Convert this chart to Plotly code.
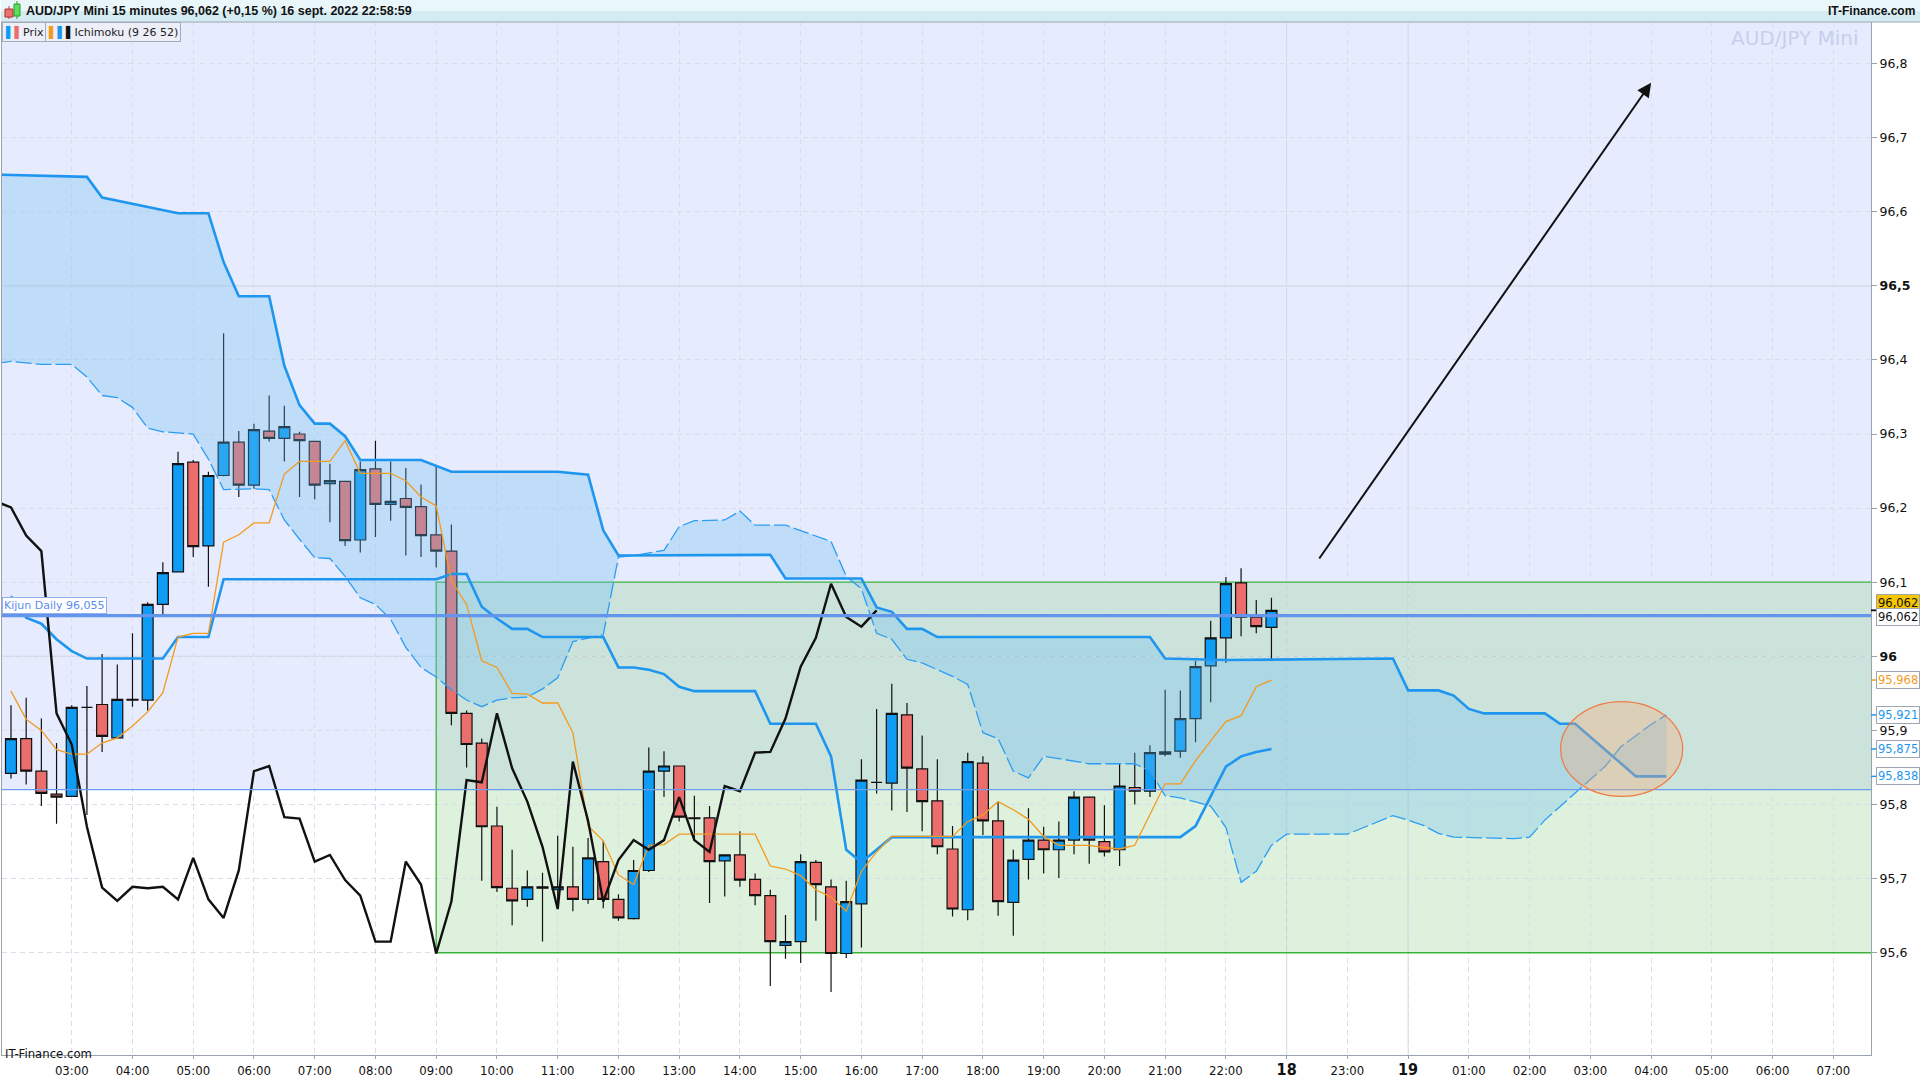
import pandas as pd
import plotly.graph_objects as go

# AUD/JPY Mini, 15 minute candles of 16 sept. 2022, first bar 02:00, last bar 22:45
opens = [95.842, 95.889, 95.845, 95.814, 95.811, 95.931, 95.935, 95.890, 95.941, 95.941,
         96.070, 96.114, 96.262, 96.149, 96.244, 96.289, 96.231, 96.304, 96.294, 96.300,
         96.290, 96.233, 96.236, 96.157, 96.253, 96.205, 96.213, 96.202, 96.164, 96.142,
         95.923, 95.883, 95.771, 95.687, 95.672, 95.689, 95.685, 95.689, 95.672, 95.723,
         95.672, 95.646, 95.711, 95.845, 95.852, 95.782, 95.782, 95.724, 95.732, 95.699,
         95.677, 95.610, 95.615, 95.722, 95.689, 95.599, 95.666, 95.830, 95.829, 95.921,
         95.848, 95.805, 95.740, 95.658, 95.856, 95.778, 95.668, 95.726, 95.752, 95.739,
         95.752, 95.810, 95.750, 95.739, 95.823, 95.818, 95.868, 95.872, 95.916, 95.987,
         96.025, 96.099, 96.053, 96.039]
highs = [95.934, 95.944, 95.916, 95.883, 95.934, 95.960, 96.003, 95.989, 96.031, 96.073,
         96.127, 96.276, 96.265, 96.249, 96.436, 96.304, 96.314, 96.352, 96.338, 96.303,
         96.290, 96.260, 96.237, 96.263, 96.291, 96.263, 96.254, 96.232, 96.257, 96.178,
         95.927, 95.889, 95.797, 95.739, 95.711, 95.708, 95.758, 95.743, 95.755, 95.751,
         95.679, 95.725, 95.877, 95.872, 95.852, 95.812, 95.798, 95.732, 95.764, 95.707,
         95.685, 95.651, 95.733, 95.725, 95.699, 95.697, 95.861, 95.929, 95.963, 95.937,
         95.893, 95.861, 95.771, 95.870, 95.865, 95.804, 95.739, 95.795, 95.770, 95.777,
         95.818, 95.810, 95.799, 95.856, 95.870, 95.880, 95.955, 95.954, 95.994, 96.048,
         96.107, 96.119, 96.076, 96.079]
lows = [95.835, 95.827, 95.798, 95.774, 95.810, 95.786, 95.871, 95.889, 95.932, 95.927,
        96.055, 96.114, 96.134, 96.094, 96.243, 96.215, 96.226, 96.290, 96.263, 96.215,
        96.212, 96.181, 96.149, 96.140, 96.161, 96.183, 96.136, 96.134, 96.120, 95.907,
        95.850, 95.697, 95.682, 95.637, 95.662, 95.615, 95.668, 95.656, 95.666, 95.660,
        95.643, 95.645, 95.709, 95.810, 95.777, 95.751, 95.667, 95.676, 95.689, 95.664,
        95.555, 95.592, 95.586, 95.643, 95.547, 95.593, 95.607, 95.815, 95.792, 95.790,
        95.764, 95.733, 95.649, 95.644, 95.759, 95.650, 95.623, 95.699, 95.707, 95.701,
        95.733, 95.720, 95.730, 95.717, 95.800, 95.810, 95.865, 95.863, 95.884, 95.938,
        95.991, 96.027, 96.031, 95.995]
closes = [95.889, 95.845, 95.815, 95.810, 95.931, 95.931, 95.892, 95.942, 95.942, 96.070,
          96.113, 96.260, 96.148, 96.244, 96.289, 96.231, 96.306, 96.294, 96.310, 96.291,
          96.231, 96.237, 96.156, 96.252, 96.205, 96.209, 96.201, 96.163, 96.142, 95.923,
          95.881, 95.770, 95.688, 95.670, 95.689, 95.687, 95.689, 95.672, 95.728, 95.672,
          95.647, 95.711, 95.845, 95.852, 95.783, 95.781, 95.723, 95.732, 95.698, 95.677,
          95.615, 95.615, 95.723, 95.692, 95.599, 95.669, 95.833, 95.830, 95.923, 95.849,
          95.804, 95.743, 95.659, 95.858, 95.778, 95.669, 95.725, 95.752, 95.739, 95.752,
          95.810, 95.752, 95.736, 95.825, 95.818, 95.870, 95.871, 95.916, 95.986, 96.025,
          96.098, 96.053, 96.040, 96.062]

# Ichimoku (9 26 52)
tenkan = [95.953, 95.915, 95.900, 95.874, 95.868, 95.868, 95.883, 95.890, 95.906, 95.925,
          95.951, 96.026, 96.031, 96.031, 96.154, 96.164, 96.180, 96.180, 96.246, 96.263,
          96.263, 96.263, 96.291, 96.247, 96.247, 96.247, 96.237, 96.215, 96.203, 96.102,
          96.070, 95.994, 95.985, 95.950, 95.949, 95.937, 95.937, 95.897, 95.771, 95.751,
          95.705, 95.692, 95.745, 95.746, 95.760, 95.760, 95.760, 95.760, 95.760, 95.760,
          95.717, 95.713, 95.704, 95.685, 95.675, 95.656, 95.710, 95.736, 95.757, 95.757,
          95.757, 95.757, 95.757, 95.777, 95.786, 95.804, 95.793, 95.780, 95.757, 95.745,
          95.745, 95.745, 95.742, 95.740, 95.745, 95.786, 95.828, 95.828, 95.859, 95.886,
          95.912, 95.920, 95.959, 95.968]
kijun = [96.081, 96.052, 96.044, 96.023, 96.007, 95.997, 95.997, 95.997, 95.997, 95.997,
         95.997, 96.026, 96.026, 96.026, 96.104, 96.104, 96.104, 96.104, 96.104, 96.104,
         96.104, 96.104, 96.104, 96.104, 96.104, 96.104, 96.104, 96.104, 96.104, 96.111,
         96.111, 96.067, 96.051, 96.037, 96.037, 96.026, 96.026, 96.026, 96.026, 96.026,
         95.985, 95.985, 95.982, 95.976, 95.959, 95.953, 95.953, 95.953, 95.953, 95.953,
         95.909, 95.909, 95.909, 95.909, 95.865, 95.739, 95.722, 95.739, 95.756, 95.756,
         95.756, 95.756, 95.756, 95.756, 95.756, 95.756, 95.756, 95.756, 95.756, 95.756,
         95.756, 95.756, 95.756, 95.756, 95.756, 95.756, 95.756, 95.756, 95.771, 95.810,
         95.851, 95.865, 95.871, 95.875]

# senkou spans, projected 26 bars ahead: break points (hour of the bar, price)
senkou_a_hours = [1.75, 2.0, 2.5, 3.0, 3.25, 3.5, 3.75, 4.0, 4.25, 4.5, 5.0, 5.25, 5.5, 6.0,
                  6.25, 6.5, 6.75, 7.0, 7.25, 7.5, 7.75, 8.0, 8.25, 8.5, 8.75, 9.0, 9.25,
                  9.5, 9.75, 10.0, 10.25, 10.5, 10.75, 11.0, 11.25, 11.75, 12.0, 12.25,
                  12.75, 13.0, 13.25, 13.75, 14.0, 14.25, 14.75, 15.0, 15.5, 15.75, 16.0,
                  16.25, 16.5, 16.75, 17.0, 17.25, 17.5, 17.75, 18.0, 18.25, 18.5, 18.75,
                  19.0, 19.25, 19.75, 20.5, 20.75, 21.0, 21.25, 21.75, 22.0, 22.25, 22.5,
                  22.75, 23.0, 24.0, 24.5, 24.75, 25.0, 25.25, 25.5, 25.75, 26.75, 27.0,
                  27.25, 27.5, 27.75, 28.25, 28.5, 29.0, 29.25]
senkou_a = [96.395, 96.398, 96.394, 96.394, 96.377, 96.352, 96.349, 96.336, 96.308, 96.303,
            96.300, 96.266, 96.225, 96.226, 96.225, 96.184, 96.158, 96.133, 96.132, 96.108,
            96.079, 96.070, 96.050, 96.012, 95.985, 95.972, 95.955, 95.941, 95.932, 95.941,
            95.944, 95.945, 95.956, 95.971, 96.020, 96.029, 96.134, 96.136, 96.143, 96.175,
            96.183, 96.184, 96.196, 96.177, 96.177, 96.170, 96.155, 96.108, 96.091, 96.031,
            96.023, 95.996, 95.991, 95.982, 95.973, 95.962, 95.897, 95.889, 95.845, 95.836,
            95.865, 95.862, 95.855, 95.855, 95.845, 95.812, 95.809, 95.798, 95.769, 95.695,
            95.710, 95.745, 95.760, 95.760, 95.776, 95.785, 95.779, 95.772, 95.761, 95.756,
            95.754, 95.756, 95.779, 95.797, 95.815, 95.852, 95.878, 95.908, 95.921]
senkou_b_hours = [1.75, 3.25, 3.5, 4.75, 5.25, 5.5, 5.75, 6.25, 6.5, 6.75, 7.0, 7.25, 7.5,
                  7.75, 8.75, 9.25, 11.0, 11.5, 11.75, 12.0, 14.5, 14.75, 16.0, 16.25, 16.5,
                  16.75, 17.0, 17.25, 20.75, 21.0, 22.0, 24.5, 24.75, 25.0, 25.5, 25.75,
                  26.0, 26.25, 27.25, 27.5, 27.75, 28.75, 29.25]
senkou_b = [96.650, 96.647, 96.619, 96.598, 96.598, 96.532, 96.486, 96.486, 96.392, 96.339,
            96.314, 96.314, 96.297, 96.265, 96.265, 96.249, 96.249, 96.245, 96.170, 96.136,
            96.137, 96.105, 96.105, 96.066, 96.060, 96.037, 96.037, 96.026, 96.026, 95.997,
            95.995, 95.996, 95.997, 95.954, 95.954, 95.947, 95.929, 95.923, 95.923, 95.909,
            95.909, 95.838, 95.838]

# x axis: one tick per hour, the chart keeps running into the projected bars
time_ticks = list(range(3, 33))
time_labels = ["03:00", "04:00", "05:00", "06:00", "07:00", "08:00", "09:00", "10:00",
               "11:00", "12:00", "13:00", "14:00", "15:00", "16:00", "17:00", "18:00",
               "19:00", "20:00", "21:00", "22:00", "18", "23:00", "19", "01:00", "02:00",
               "03:00", "04:00", "05:00", "06:00", "07:00"]
day_ticks = [23, 25]
price_ticks = [95.6, 95.7, 95.8, 95.9, 96.0, 96.1, 96.2, 96.3, 96.4, 96.5, 96.6, 96.7, 96.8]
round_prices = [96.0, 96.5]

last_price = 96.062
kijun_daily = 96.055
support_level = 95.82
range_box = dict(start=9.0, low=95.6, high=96.1)
target_zone = dict(x0=27.51, x1=29.52, y0=95.811, y1=95.939)
arrow_tail = (23.52, 96.130)
arrow_head = (29.0, 96.774)

X_RANGE = [1.852, 32.62]
Y_RANGE = [95.462, 96.856]
W, H = 1920, 1080
M_L, M_R, M_T, M_B = 1, 49, 22, 21
PLOT_W = W - M_L - M_R
PLOT_H = H - M_T - M_B

BLUE = "#1e96f0"
UP = "#0f9cf5"
DOWN = "#ec6e6c"
ORANGE = "#f39a1e"
GREEN = "#3cb43c"


def fr(v, digits=3):
    s = f"{v:.{digits}f}".rstrip("0").rstrip(".") if digits == 1 else f"{v:.{digits}f}"
    return s.replace(".", ",")


def px_x(px):
    return (px - M_L) / PLOT_W


def px_y(py):
    return 1 + (M_T - py) / PLOT_H


bar_times = pd.date_range("2022-09-16 02:00", periods=len(closes), freq="15min")
bar_hours = [t.hour + t.minute / 60 for t in bar_times]
chikou_hours = [h - 6.5 for h in bar_hours]  # closes plotted 26 bars back

fig = go.Figure()

# kumo between the two senkou spans
fig.add_trace(go.Scatter(
    x=senkou_a_hours + senkou_b_hours[::-1],
    y=senkou_a + senkou_b[::-1],
    fill="toself", fillcolor="rgba(103,189,243,0.30)",
    line=dict(width=0), mode="lines", hoverinfo="skip",
))
fig.add_trace(go.Scatter(x=senkou_a_hours, y=senkou_a, mode="lines",
                         line=dict(color="#2a9df4", width=1.3, dash="16px,4px")))
fig.add_trace(go.Scatter(x=senkou_b_hours, y=senkou_b, mode="lines",
                         line=dict(color=BLUE, width=2.6)))

fig.add_trace(go.Candlestick(
    x=bar_hours, open=opens, high=highs, low=lows, close=closes,
    increasing=dict(fillcolor=UP, line=dict(color="#111111", width=1.2)),
    decreasing=dict(fillcolor=DOWN, line=dict(color="#111111", width=1.2)),
    whiskerwidth=0,
))

fig.add_trace(go.Scatter(x=bar_hours, y=kijun, mode="lines",
                         line=dict(color=BLUE, width=2.6)))
fig.add_trace(go.Scatter(x=bar_hours, y=tenkan, mode="lines",
                         line=dict(color=ORANGE, width=1.3)))
fig.add_trace(go.Scatter(x=chikou_hours, y=closes, mode="lines",
                         line=dict(color="#111111", width=2.4)))

shapes = [
    # zone above the support
    dict(type="rect", xref="paper", yref="y", x0=0, x1=1, y0=support_level, y1=97,
         fillcolor="#e6ebfd", line=dict(width=0), layer="below"),
    # trading range box
    dict(type="rect", xref="x", yref="y", x0=range_box["start"], x1=X_RANGE[1] + 1,
         y0=range_box["low"], y1=range_box["high"],
         fillcolor="rgba(150,212,150,0.32)", line=dict(width=0), layer="below"),
    dict(type="rect", xref="x", yref="y", x0=range_box["start"], x1=X_RANGE[1] + 1,
         y0=range_box["low"], y1=range_box["high"],
         fillcolor="rgba(0,0,0,0)", line=dict(color=GREEN, width=1.3), layer="between"),
    dict(type="line", xref="paper", yref="y", x0=0, x1=1, y0=support_level, y1=support_level,
         line=dict(color="#6d9cee", width=1.2)),
    dict(type="line", xref="paper", yref="y", x0=0, x1=1, y0=kijun_daily, y1=kijun_daily,
         line=dict(color="#6495ed", width=3.2)),
    dict(type="circle", xref="x", yref="y", **target_zone,
         fillcolor="rgba(246,170,120,0.35)", line=dict(color="#f07a45", width=1.2)),
]
for h in day_ticks:
    shapes.append(dict(type="line", xref="x", yref="paper", x0=h, x1=h, y0=0, y1=1,
                       line=dict(color="#d2d8e6", width=1), layer="below"))
for p in round_prices:
    shapes.append(dict(type="line", xref="paper", yref="y", x0=0, x1=1, y0=p, y1=p,
                       line=dict(color="#cfd6e4", width=1.2), layer="below"))

# header bar
shapes += [
    dict(type="rect", xref="paper", yref="paper", x0=px_x(0), x1=px_x(W), y0=px_y(11),
         y1=px_y(0), fillcolor="#e9f6fa", line=dict(width=0)),
    dict(type="rect", xref="paper", yref="paper", x0=px_x(0), x1=px_x(W), y0=px_y(22),
         y1=px_y(11), fillcolor="#d3ebf1", line=dict(width=0)),
    dict(type="line", xref="paper", yref="paper", x0=px_x(0), x1=px_x(W), y0=px_y(22),
         y1=px_y(22), line=dict(color="#9aa6b0", width=1)),
    dict(type="line", xref="paper", yref="paper", x0=px_x(8), x1=px_x(8), y0=px_y(19),
         y1=px_y(6), line=dict(color="#c83c3c", width=1)),
    dict(type="rect", xref="paper", yref="paper", x0=px_x(4), x1=px_x(12), y0=px_y(17),
         y1=px_y(9), fillcolor="#ee7070", line=dict(color="#b03030", width=1)),
    dict(type="line", xref="paper", yref="paper", x0=px_x(16), x1=px_x(16), y0=px_y(19),
         y1=px_y(1), line=dict(color="#2a9a2a", width=1)),
    dict(type="rect", xref="paper", yref="paper", x0=px_x(13), x1=px_x(19), y0=px_y(16),
         y1=px_y(4), fillcolor="#5ee05e", line=dict(color="#2a9a2a", width=1)),
]

annotations = [
    dict(xref="paper", yref="paper", x=px_x(23), y=px_y(11), xanchor="left", yanchor="middle",
         text="<b>AUD/JPY Mini 15 minutes 96,062 (+0,15 %) 16 sept. 2022 22:58:59</b>",
         showarrow=False, font=dict(family="Liberation Sans, Arial", size=12.5, color="#111")),
    dict(xref="paper", yref="paper", x=px_x(W - 3), y=px_y(11), xanchor="right",
         yanchor="middle", text="<b>IT-Finance.com</b>", showarrow=False,
         font=dict(family="Liberation Sans, Arial", size=12, color="#111")),
    dict(xref="paper", yref="paper", x=0, y=1, xanchor="left", yanchor="top",
         text=f'<span style="color:{UP}">▌</span><span style="color:{DOWN}">▌</span>Prix',
         showarrow=False, bgcolor="#eceff8", bordercolor="#a3abb6", borderwidth=1,
         borderpad=2, font=dict(family="DejaVu Sans", size=11, color="#222")),
    dict(xref="paper", yref="paper", x=px_x(44), y=1, xanchor="left", yanchor="top",
         text=f'<span style="color:{ORANGE}">▌</span><span style="color:{BLUE}">▌</span>'
              f'<span style="color:#111">▌</span>Ichimoku (9 26 52)',
         showarrow=False, bgcolor="#eceff8", bordercolor="#a3abb6", borderwidth=1,
         borderpad=2, font=dict(family="DejaVu Sans", size=11, color="#222")),
    dict(xref="paper", yref="paper", x=px_x(1861), y=px_y(24), xanchor="right", yanchor="top",
         text="AUD/JPY Mini", showarrow=False,
         font=dict(family="DejaVu Sans", size=20, color="#c6d0ee")),
    dict(xref="paper", yref="paper", x=px_x(2), y=0, xanchor="left", yanchor="bottom",
         yshift=-8, text="IT-Finance.com", showarrow=False,
         font=dict(family="Liberation Sans Narrow, DejaVu Sans Condensed, Liberation Sans",
                   size=13, color="#111")),
    dict(xref="paper", yref="y", x=0, y=kijun_daily, xanchor="left", yanchor="bottom",
         yshift=2, text=f"Kijun Daily {fr(kijun_daily)}", showarrow=False, bgcolor="white",
         bordercolor="#8fb0f2", borderwidth=1, borderpad=1,
         font=dict(family="DejaVu Sans", size=11, color="#5b8def")),
    dict(xref="x", yref="y", axref="x", ayref="y", x=arrow_head[0], y=arrow_head[1],
         ax=arrow_tail[0], ay=arrow_tail[1], text="", showarrow=True, arrowhead=2,
         arrowsize=1.4, arrowwidth=2, arrowcolor="#111"),
]

# price tags on the right scale
tags = [
    (last_price, 7, "#111", "#f7c600"),
    (last_price, -7, "#111", "white"),
    (tenkan[-1], 0, ORANGE, "white"),
    (senkou_a[-1], 0, BLUE, "white"),
    (kijun[-1], 0, BLUE, "white"),
    (senkou_b[-1], 0, BLUE, "white"),
]
for value, shift, color, bg in tags:
    annotations.append(dict(
        xref="paper", yref="y", x=1, y=value, xanchor="left", yanchor="middle",
        xshift=5, yshift=shift, text=fr(value), showarrow=False, bgcolor=bg,
        bordercolor="#9ea7b1", borderwidth=1, borderpad=1,
        font=dict(family="DejaVu Sans", size=11.5, color=color)))
    shapes.append(dict(type="line", xref="paper", yref="y", x0=1, x1=1 + 5 / PLOT_W,
                       y0=value, y1=value, line=dict(color=color, width=1.5)))

x_text = [f"<b><span style='font-size:16px'>{t}</span></b>" if ":" not in t else t
          for t in time_labels]
y_text = [f"<b>{fr(p, 1)}</b>" if p in round_prices else fr(p, 1) for p in price_ticks]

fig.update_layout(
    width=W, height=H,
    margin=dict(l=M_L, r=M_R, t=M_T, b=M_B, pad=0),
    paper_bgcolor="white", plot_bgcolor="white",
    showlegend=False, shapes=shapes, annotations=annotations,
    font=dict(family="DejaVu Sans", color="#111"),
    hovermode=False, boxgap=0.1, boxgroupgap=0.2,
    xaxis=dict(range=X_RANGE, tickmode="array", tickvals=time_ticks, ticktext=x_text,
               showgrid=True, gridcolor="#d9deea", griddash="5px,4px", gridwidth=1,
               zeroline=False, showline=True, linecolor="#9aa3ad", mirror=True,
               ticks="outside", ticklen=3, tickcolor="#9aa3ad",
               tickfont=dict(family="Liberation Sans Narrow, DejaVu Sans Condensed, Liberation Sans",
                             size=13, color="#111"),
               rangeslider=dict(visible=False), fixedrange=True),
    yaxis=dict(range=Y_RANGE, side="right", tickmode="array", tickvals=price_ticks,
               ticktext=y_text, showgrid=True, gridcolor="#d9deea", griddash="5px,4px",
               gridwidth=1, zeroline=False, showline=True, linecolor="#9aa3ad", mirror=True,
               ticks="outside", ticklen=5, tickcolor="#9aa3ad",
               tickfont=dict(family="DejaVu Sans", size=12.5, color="#111"), fixedrange=True),
)

fig.write_html("out.html", config={"displayModeBar": False},
               post_script="document.body.style.margin='0';document.body.style.overflow='hidden';")
